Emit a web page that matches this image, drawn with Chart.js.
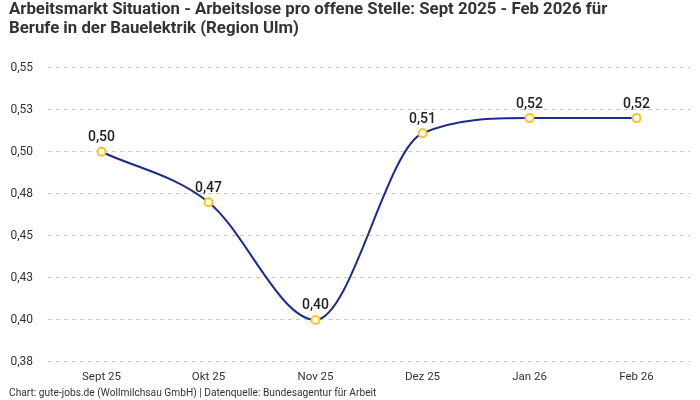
<!DOCTYPE html>
<html>
<head>
<meta charset="utf-8">
<script src="https://cdn.jsdelivr.net/npm/chart.js@4/dist/chart.umd.min.js"></script>
<style>
	html, body { margin: 0; padding: 0; background: #fff; }
	#wrap { width: 700px; height: 400px; }
</style>
</head>
<body>
<div id="wrap"><canvas id="chart"></canvas></div>
<script>
// Data
const months = ['Sept 25', 'Okt 25', 'Nov 25', 'Dez 25', 'Jan 26', 'Feb 26'];
const ratio = [0.50, 0.47, 0.40, 0.511, 0.52, 0.52];

// Y axis range / ticks
const yMin = 0.375;
const yMax = 0.55;
const yStep = 0.025;

const titleLines = [
	'Arbeitsmarkt Situation - Arbeitslose pro offene Stelle: Sept 2025 - Feb 2026 für',
	'Berufe in der Bauelektrik (Region Ulm)'
];
const sourceText = 'Chart: gute-jobs.de (Wollmilchsau GmbH) | Datenquelle: Bundesagentur für Arbeit';

const fmt = v => (v + 1e-9).toFixed(2).replace('.', ',');

// Value labels above each point
const pointLabels = {
	id: 'pointLabels',
	afterDatasetsDraw(chart) {
		const ctx = chart.ctx;
		const meta = chart.getDatasetMeta(0);
		ctx.save();
		ctx.font = '500 14px Roboto, sans-serif';
		ctx.fillStyle = '#222';
		ctx.textAlign = 'center';
		ctx.textBaseline = 'bottom';
		meta.data.forEach((pt, i) => {
			ctx.fillText(fmt(ratio[i]), pt.x, pt.y - 7);
		});
		ctx.restore();
	}
};

new Chart(document.getElementById('chart'), {
	type: 'line',
	data: {
		labels: months,
		datasets: [{
			data: ratio,
			borderColor: '#1c2b8f',                 // Line - dark blue
			borderWidth: 2,
			cubicInterpolationMode: 'monotone',     // Smooth, no overshoot
			pointRadius: 4,
			pointBorderWidth: 2,
			pointBorderColor: '#ffc21a',            // Yellow ring
			pointBackgroundColor: '#fff',
			fill: false
		}]
	},
	options: {
		responsive: true,
		maintainAspectRatio: false,
		animation: false,
		layout: { padding: { left: 9, right: 10, top: 0, bottom: 0 } },
		plugins: {
			legend: { display: false },
			tooltip: { enabled: false },
			title: {
				display: true,
				text: titleLines,
				align: 'start',
				color: '#333',
				font: { family: 'Roboto, sans-serif', size: 16.8, weight: 'bold', lineHeight: 1.15 },
				padding: { top: 0, bottom: 29 }
			},
			subtitle: {
				display: true,
				text: sourceText,
				position: 'bottom',
				align: 'start',
				color: '#333',
				font: { family: 'Roboto, sans-serif', size: 10.2 },
				padding: { top: 4, bottom: 0 }
			}
		},
		scales: {
			y: {
				min: yMin,
				max: yMax,
				afterFit: s => { s.width = 39; },    // Fixed axis width
				grid: {
					color: '#ccc',
					tickLength: 0
				},
				border: { display: false, dash: [4, 4] },
				ticks: {
					stepSize: yStep,
					padding: 15,
					color: '#333',
					font: { family: 'Roboto, sans-serif', size: 12 },
					callback: v => fmt(v)
				}
			},
			x: {
				offset: true,
				grid: { display: false },
				border: { display: false },
				ticks: {
					color: '#333',
					padding: 0,
					font: { family: 'Roboto, sans-serif', size: 11.5 }
				}
			}
		}
	},
	plugins: [pointLabels]
});
</script>
</body>
</html>
